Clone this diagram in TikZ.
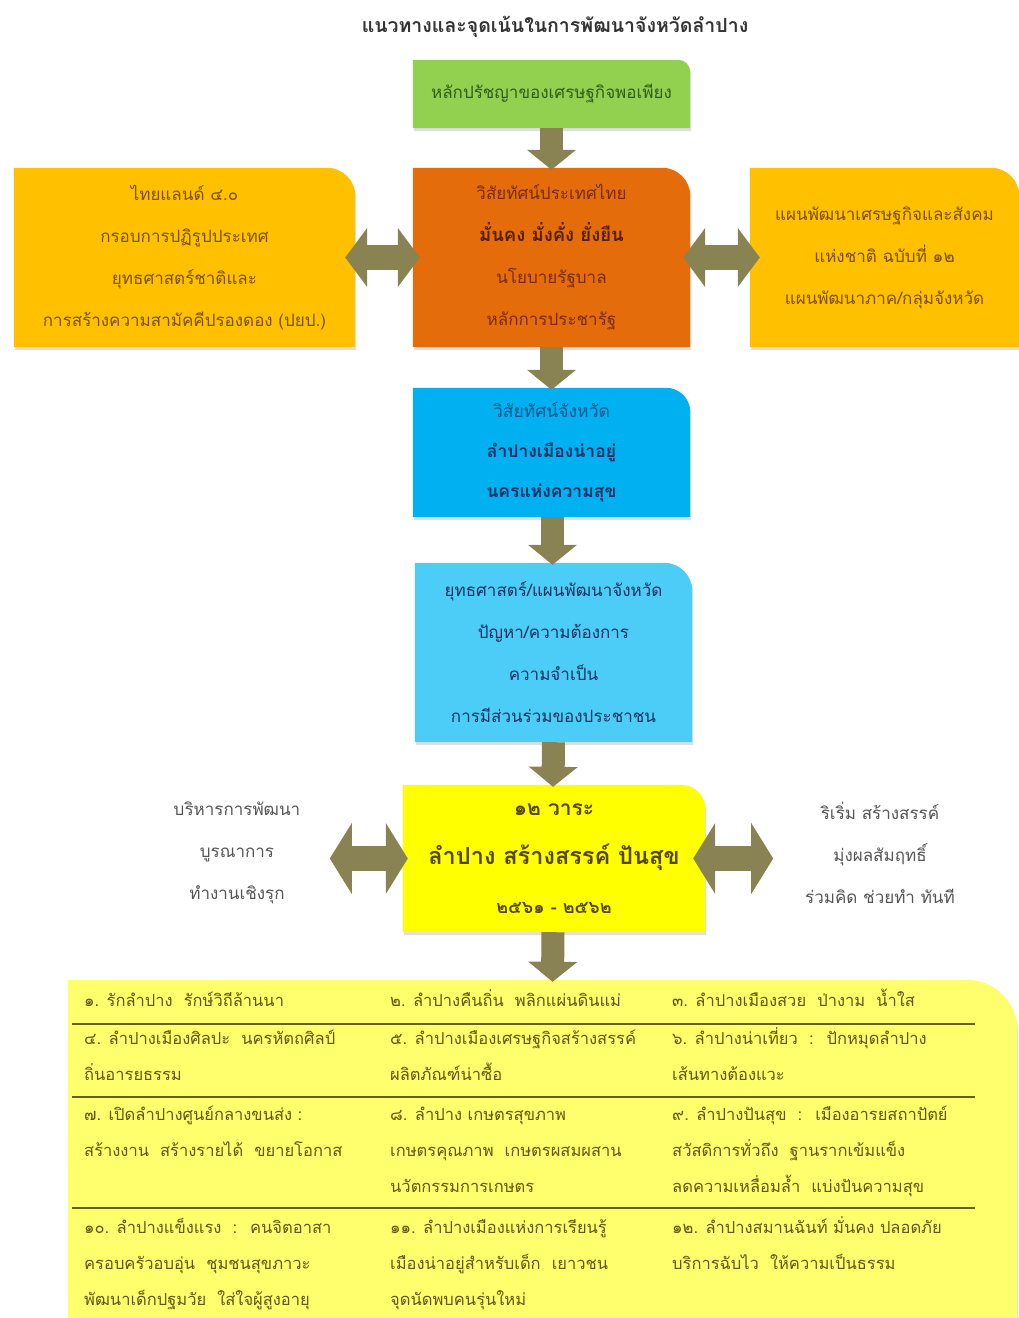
\documentclass[tikz,border=0pt]{standalone}
\usepackage{fontspec}
\setmainfont[Script=Thai]{Loma}
\usetikzlibrary{arrows.meta,shadows,backgrounds,positioning}
\definecolor{arrowc}{RGB}{137,130,82}
\definecolor{greenfill}{RGB}{146,208,80}
\definecolor{greentext}{RGB}{45,95,25}
\definecolor{goldfill}{RGB}{255,192,0}
\definecolor{goldtext}{RGB}{125,80,0}
\definecolor{orangefill}{RGB}{228,108,10}
\definecolor{orangetext}{RGB}{120,45,10}
\definecolor{bluefill}{RGB}{0,176,240}
\definecolor{bluetext}{RGB}{25,50,100}
\definecolor{lightbluefill}{RGB}{75,205,248}
\definecolor{yellowfill}{RGB}{255,255,0}
\definecolor{yellowtext}{RGB}{85,70,0}
\definecolor{tablefill}{RGB}{255,255,110}
\definecolor{tabletext}{RGB}{100,85,15}
\definecolor{rulec}{RGB}{100,95,40}
\definecolor{sidetext}{RGB}{85,85,85}
\newcommand{\cornerbox}[3]{%
	\fill[#3,drop shadow={opacity=0.25,shadow xshift=1pt,shadow yshift=-3pt}] (#1.south west) -- (#1.north west) -- ([xshift=-#2]#1.north east) arc[start angle=90,end angle=0,radius=#2] -- (#1.south east) -- cycle;
}
\begin{document}
\begin{tikzpicture}[x=1pt,y=1pt,
	box/.style={inner sep=0pt,align=center,font=\fontsize{17}{42}\selectfont},
	downarrow/.style={draw=arrowc,line width=23pt,-{Triangle[width=48pt,length=20pt]}},
	twoarrow/.style={draw=arrowc,line width=25pt,{Triangle[width=#1,length=22pt]}-{Triangle[width=#1,length=22pt]}},
	side/.style={align=center,inner sep=0pt,text=sidetext,font=\fontsize{17}{42}\selectfont},
	cell/.style={anchor=base west,align=left,inner sep=0pt,text=tabletext,font=\fontsize{16.5}{36}\selectfont}]
	\useasboundingbox (0,0) rectangle (1019,-1318);

	\node (title) at (555,-27) {\fontsize{19.5}{22}\selectfont\bfseries\color{black!80} แนวทางและจุดเน้นในการพัฒนาจังหวัดลำปาง};

	\node[box,minimum width=277pt,minimum height=68pt,text=greentext] (sufficiency) at (551.5,-94) {หลักปรัชญาของเศรษฐกิจพอเพียง};
	\node[box,minimum width=341pt,minimum height=179pt,text=goldtext] (thai40) at (184.5,-257.5) {ไทยแลนด์ ๔.๐\\กรอบการปฏิรูปประเทศ\\ยุทธศาสตร์ชาติและ\\การสร้างความสามัคคีปรองดอง (ปยป.)};
	\node[box,minimum width=277pt,minimum height=179pt,text=orangetext] (thaivision) at (551.5,-257.5) {วิสัยทัศน์ประเทศไทย\\{\fontsize{18.5}{42}\selectfont\bfseries\color{orangetext!70!black} มั่นคง มั่งคั่ง ยั่งยืน}\\นโยบายรัฐบาล\\หลักการประชารัฐ};
	\node[box,minimum width=269pt,minimum height=179pt,text=goldtext] (nesdp) at (884.5,-257.5) {แผนพัฒนาเศรษฐกิจและสังคม\\แห่งชาติ ฉบับที่ ๑๒\\แผนพัฒนาภาค/กลุ่มจังหวัด};
	\node[box,minimum width=277pt,minimum height=129pt,text=bluetext,font=\fontsize{17.5}{40}\selectfont] (provvision) at (551.5,-452.5) {{\color{bluetext!70!bluefill}วิสัยทัศน์จังหวัด}\\\bfseries ลำปางเมืองน่าอยู่\\\bfseries นครแห่งความสุข};
	\node[box,minimum width=277pt,minimum height=179pt,text=bluetext] (strategy) at (553.5,-652.5) {ยุทธศาสตร์/แผนพัฒนาจังหวัด\\ปัญหา/ความต้องการ\\ความจำเป็น\\การมีส่วนร่วมของประชาชน};
	\node[box,minimum width=302pt,minimum height=147pt,text=yellowtext,font=\fontsize{18}{49}\selectfont\bfseries] (agenda12) at (554,-858.5) {{\fontsize{21}{49}\selectfont ๑๒ วาระ}\\{\fontsize{23.5}{49}\selectfont ลำปาง สร้างสรรค์ ปันสุข}\\๒๕๖๑ - ๒๕๖๒};
	\node[side] (manage) at (237,-853) {บริหารการพัฒนา\\บูรณาการ\\ทำงานเชิงรุก};
	\node[side] (initiative) at (880,-853) {ริเริ่ม สร้างสรรค์\\มุ่งผลสัมฤทธิ์\\ร่วมคิด ช่วยทำ ทันที};
	\node[inner sep=0pt,minimum width=949pt,minimum height=338pt] (agendas) at (542.5,-1149) {};

	\begin{pgfonlayer}{background}
		\fill[white] (0,0) rectangle (1019,-1318);
		\cornerbox{sufficiency}{12pt}{greenfill}
		\cornerbox{thai40}{28pt}{goldfill}
		\cornerbox{thaivision}{28pt}{orangefill}
		\cornerbox{nesdp}{28pt}{goldfill}
		\cornerbox{provvision}{24pt}{bluefill}
		\cornerbox{strategy}{28pt}{lightbluefill}
		\cornerbox{agenda12}{24pt}{yellowfill}
		\cornerbox{agendas}{50pt}{tablefill}
	\end{pgfonlayer}

	\node[cell] (a1) at (84,-1006) {๑. รักลำปาง~ รักษ์วิถีล้านนา};
	\node[cell] (a2) at (390,-1006) {๒. ลำปางคืนถิ่น~ พลิกแผ่นดินแม่};
	\node[cell] (a3) at (672,-1006) {๓. ลำปางเมืองสวย~ ป่างาม~ น้ำใส};
	\node[cell] (a4) at (84,-1080) {๔. ลำปางเมืองศิลปะ~ นครหัตถศิลป์\\ถิ่นอารยธรรม};
	\node[cell] (a5) at (390,-1080) {๕. ลำปางเมืองเศรษฐกิจสร้างสรรค์\\ผลิตภัณฑ์น่าซื้อ};
	\node[cell] (a6) at (672,-1080) {๖. ลำปางน่าเที่ยว~ :~ ปักหมุดลำปาง\\เส้นทางต้องแวะ};
	\node[cell] (a7) at (84,-1156) {๗. เปิดลำปางศูนย์กลางขนส่ง :\\สร้างงาน~ สร้างรายได้~ ขยายโอกาส};
	\node[cell] (a8) at (390,-1192) {๘. ลำปาง เกษตรสุขภาพ\\เกษตรคุณภาพ~ เกษตรผสมผสาน\\นวัตกรรมการเกษตร};
	\node[cell] (a9) at (672,-1192) {๙. ลำปางปันสุข~ :~ เมืองอารยสถาปัตย์\\สวัสดิการทั่วถึง~ ฐานรากเข้มแข็ง\\ลดความเหลื่อมล้ำ~ แบ่งปันความสุข};
	\node[cell] (a10) at (84,-1305) {๑๐. ลำปางแข็งแรง~ :~ คนจิตอาสา\\ครอบครัวอบอุ่น~ ชุมชนสุขภาวะ\\พัฒนาเด็กปฐมวัย~ ใส่ใจผู้สูงอายุ};
	\node[cell] (a11) at (390,-1305) {๑๑. ลำปางเมืองแห่งการเรียนรู้\\เมืองน่าอยู่สำหรับเด็ก~ เยาวชน\\จุดนัดพบคนรุ่นใหม่};
	\node[cell] (a12) at (672,-1269) {๑๒. ลำปางสมานฉันท์ มั่นคง ปลอดภัย\\บริการฉับไว~ ให้ความเป็นธรรม};
	\foreach \y in {1024,1097,1208}
		\draw[rulec,line width=1.2pt] (72,-\y) -- (975,-\y);

	\draw[downarrow] (sufficiency.south) -- ([yshift=-2pt]thaivision.north);
	\draw[downarrow] (thaivision.south) -- ([yshift=-2pt]provvision.north);
	\draw[downarrow] ([xshift=1pt]provvision.south) -- ([xshift=-1pt,yshift=-2pt]strategy.north);
	\draw[downarrow] (strategy.south) -- ([xshift=-1pt,yshift=-2pt]agenda12.north);
	\draw[downarrow] ([xshift=-1pt]agenda12.south) -- ([xshift=10pt,yshift=-2pt]agendas.north);
	\draw[twoarrow=58pt] ([xshift=-10pt]thai40.east) -- ([xshift=7pt]thaivision.west);
	\draw[twoarrow=58pt] ([xshift=-7pt]thaivision.east) -- ([xshift=10pt]nesdp.west);
	\draw[twoarrow=70pt] ([xshift=-73pt]agenda12.west) -- ([xshift=5pt]agenda12.west);
	\draw[twoarrow=70pt] ([xshift=-12pt]agenda12.east) -- ([xshift=68pt]agenda12.east);
\end{tikzpicture}
\end{document}
